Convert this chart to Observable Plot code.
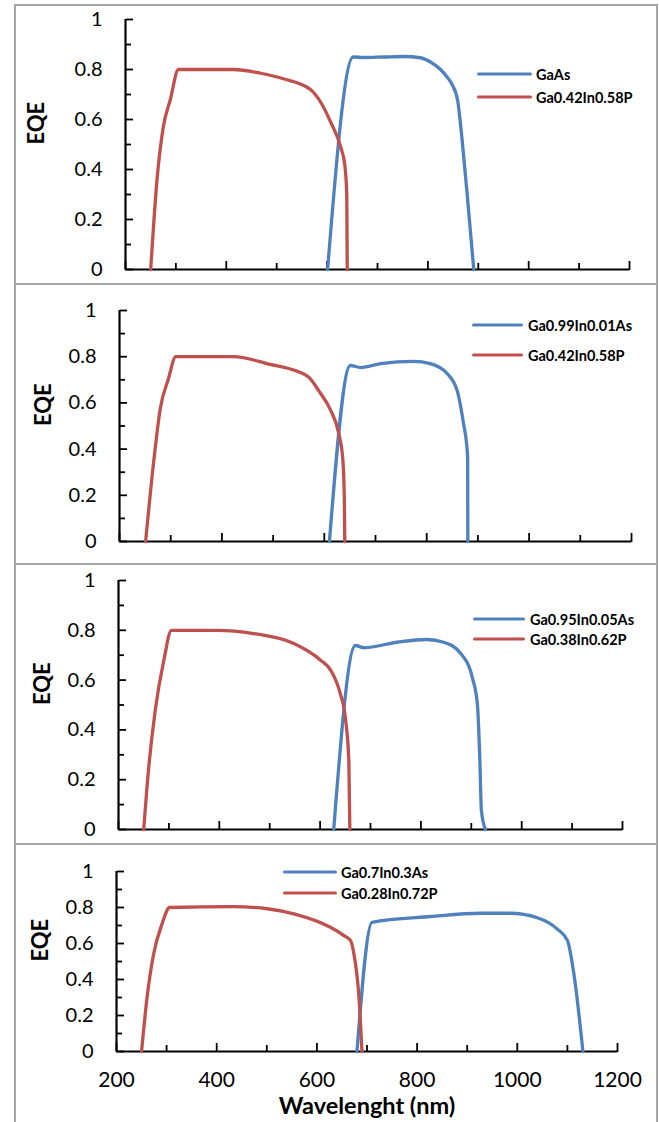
<!DOCTYPE html>
<html><head><meta charset="utf-8">
<script src="https://cdn.jsdelivr.net/npm/d3@7"></script>
<script src="https://cdn.jsdelivr.net/npm/@observablehq/plot@0.6"></script>
<style>
body{margin:0;background:#fff;font-family:Lato,sans-serif;}
#root{position:relative;width:659px;height:1122px;overflow:hidden;background:#fff;}
.frame{position:absolute;left:14px;width:644px;border:2px solid #a6a6a6;box-sizing:border-box;}
.plot{position:absolute;left:0;}
.leg{position:absolute;font:bold 14.5px Lato,sans-serif;white-space:nowrap;line-height:1;color:#000;transform:translateY(-50%);}
.ln{position:absolute;height:3.2px;border-radius:2px;transform:translateY(-50%);}
</style></head><body><div id="root"></div>
<script>
// ---- tick values ----
const xLabelTicks = [200, 400, 600, 800, 1000, 1200];
const xMinorTicks = [300, 500, 700, 900, 1100];
const yLabelTicks = [0, 0.2, 0.4, 0.6, 0.8, 1];
const yMinorTicks = [0.1, 0.3, 0.5, 0.7, 0.9];

// ---- series names ----
const names1 = ["GaAs", "Ga0.42In0.58P"];
const names2 = ["Ga0.99In0.01As", "Ga0.42In0.58P"];
const names3 = ["Ga0.95In0.05As", "Ga0.38In0.62P"];
const names4 = ["Ga0.7In0.3As", "Ga0.28In0.72P"];

// ---- panel 1 ----
const p1BlueNm  = [601, 652, 672, 712, 752, 785, 805, 825, 838, 848, 859, 868, 879, 891];
const p1BlueEqe = [0, 0.85, 0.848, 0.85, 0.852, 0.847, 0.83, 0.80, 0.77, 0.74, 0.676, 0.516, 0.276, 0];
const p1RedNm   = [250, 263, 275, 289, 305, 360, 414, 468, 513, 567, 587, 607, 627, 635, 639, 640];
const p1RedEqe  = [0, 0.37, 0.57, 0.68, 0.80, 0.80, 0.80, 0.785, 0.763, 0.72, 0.67, 0.59, 0.49, 0.42, 0.30, 0];

// ---- panel 2 ----
const p2BlueNm  = [610, 651, 671, 710, 774, 807, 840, 860, 872, 878, 880, 880.3];
const p2BlueEqe = [0, 0.762, 0.753, 0.77, 0.78, 0.77, 0.727, 0.65, 0.51, 0.42, 0.36, 0];
const p2RedNm   = [251, 267, 280, 295, 310, 370, 423, 488, 567, 590, 612, 628, 636, 639, 640];
const p2RedEqe  = [0, 0.35, 0.58, 0.70, 0.80, 0.80, 0.80, 0.77, 0.716, 0.65, 0.57, 0.47, 0.36, 0.20, 0];

// ---- panel 3 ----
const p3BlueNm  = [627, 670, 687, 753, 812, 845, 879, 902, 912, 917, 920, 928];
const p3BlueEqe = [0, 0.739, 0.73, 0.752, 0.763, 0.752, 0.707, 0.61, 0.505, 0.277, 0.077, 0];
const p3RedNm   = [250, 260, 273, 290, 305, 396, 468, 548, 601, 621, 640, 650, 657, 659];
const p3RedEqe  = [0, 0.25, 0.48, 0.68, 0.80, 0.80, 0.787, 0.747, 0.68, 0.64, 0.546, 0.45, 0.277, 0];

// ---- panel 4 ----
const p4BlueNm  = [680, 710, 827, 927, 986, 1040, 1080, 1100, 1113, 1131];
const p4BlueEqe = [0, 0.718, 0.75, 0.768, 0.768, 0.743, 0.68, 0.617, 0.43, 0];
const p4RedNm   = [250, 261, 274, 291, 306, 434, 501, 554, 627, 654, 667, 674, 684, 690];
const p4RedEqe  = [0, 0.30, 0.54, 0.71, 0.80, 0.805, 0.793, 0.765, 0.69, 0.644, 0.617, 0.54, 0.30, 0];

const BLUE = "#4F81BD", RED = "#C0504D";
const zip = (nm, eqe) => nm.map((x, i) => ({nm: x, eqe: eqe[i]}));

const panels = [
  {blue: zip(p1BlueNm, p1BlueEqe), red: zip(p1RedNm, p1RedEqe), names: names1,
   top: 0, height: 280, mL: 125, mR: 30, mT: 19, mB: 11, eqeDx: -89,
   frameTop: 4, frameH: 281, leg: {x1: 477, x2: 532, tx: 536, y: [74, 97]}},
  {blue: zip(p2BlueNm, p2BlueEqe), red: zip(p2RedNm, p2RedEqe), names: names2,
   top: 285, height: 278, mL: 119, mR: 28, mT: 25, mB: 22, eqeDx: -76,
   frameTop: 283, frameH: 282, leg: {x1: 472, x2: 523, tx: 528, y: [325, 355]}},
  {blue: zip(p3BlueNm, p3BlueEqe), red: zip(p3RedNm, p3RedEqe), names: names3,
   top: 565, height: 278, mL: 118, mR: 37, mT: 15, mB: 14, eqeDx: -76,
   frameTop: 563, frameH: 282, leg: {x1: 473, x2: 525, tx: 530, y: [619, 639]}},
  {blue: zip(p4BlueNm, p4BlueEqe), red: zip(p4RedNm, p4RedEqe), names: names4,
   top: 845, height: 277, mL: 116, mR: 42, mT: 26, mB: 71, eqeDx: -76, bottom: true,
   frameTop: 843, frameH: 290, leg: {x1: 283, x2: 337, tx: 341, y: [872, 893]}}
];

const root = document.getElementById("root");

for (const p of panels) {
  const fr = document.createElement("div");
  fr.className = "frame";
  fr.style.top = p.frameTop + "px";
  fr.style.height = p.frameH + "px";
  root.appendChild(fr);
}

for (const p of panels) {
  const tickStyle = {tickFormat: () => "", label: null, strokeWidth: 1.8};
  const marks = [
    Plot.axisY(yLabelTicks, {anchor: "left", tickSize: 0, tickPadding: 23, fontSize: 20, label: null, tickFormat: d => String(d)}),
    Plot.axisY(yLabelTicks, {anchor: "right", frameAnchor: "left", tickSize: 7, ...tickStyle}),
    Plot.axisY(yMinorTicks, {anchor: "right", frameAnchor: "left", tickSize: 5, ...tickStyle}),
    Plot.axisX(xLabelTicks, {anchor: "top", frameAnchor: "bottom", tickSize: 9, ...tickStyle}),
    Plot.axisX(xMinorTicks, {anchor: "top", frameAnchor: "bottom", tickSize: 7, ...tickStyle}),
    Plot.ruleX([200], {strokeWidth: 2.2}),
    Plot.ruleY([0], {strokeWidth: 2.2}),
    Plot.line(p.blue, {x: "nm", y: "eqe", stroke: BLUE, strokeWidth: 3.3, curve: "monotone-x"}),
    Plot.line(p.red, {x: "nm", y: "eqe", stroke: RED, strokeWidth: 3.3, curve: "monotone-x"}),
    Plot.text(["EQE"], {frameAnchor: "left", dx: p.eqeDx, rotate: -90, fontSize: 22, fontWeight: "bold", fill: "#000"})
  ];
  if (p.bottom) {
    marks.push(Plot.axisX(xLabelTicks, {anchor: "bottom", tickSize: 0, tickPadding: 21, fontSize: 21, label: null, tickFormat: d => String(d)}));
    marks.push(Plot.text(["Wavelenght (nm)"], {frameAnchor: "bottom", dy: 62, fontSize: 23.5, fontWeight: "bold", fill: "#000"}));
  }
  const svg = Plot.plot({
    width: 659, height: p.height,
    marginLeft: p.mL, marginRight: p.mR, marginTop: p.mT, marginBottom: p.mB,
    style: {fontFamily: "Lato, sans-serif", color: "#000", background: "transparent", overflow: "visible"},
    x: {domain: [200, 1200], label: null},
    y: {domain: [0, 1], label: null},
    marks
  });
  const wrap = document.createElement("div");
  wrap.className = "plot";
  wrap.style.top = p.top + "px";
  wrap.appendChild(svg);
  root.appendChild(wrap);

  const colors = [BLUE, RED];
  p.names.forEach((name, i) => {
    const ln = document.createElement("div");
    ln.className = "ln";
    ln.style.left = p.leg.x1 + "px";
    ln.style.width = (p.leg.x2 - p.leg.x1) + "px";
    ln.style.top = p.leg.y[i] + "px";
    ln.style.background = colors[i];
    root.appendChild(ln);
    const tx = document.createElement("div");
    tx.className = "leg";
    tx.style.left = p.leg.tx + "px";
    tx.style.top = (p.leg.y[i] + 1) + "px";
    tx.textContent = name;
    root.appendChild(tx);
  });
}
</script></body></html>
